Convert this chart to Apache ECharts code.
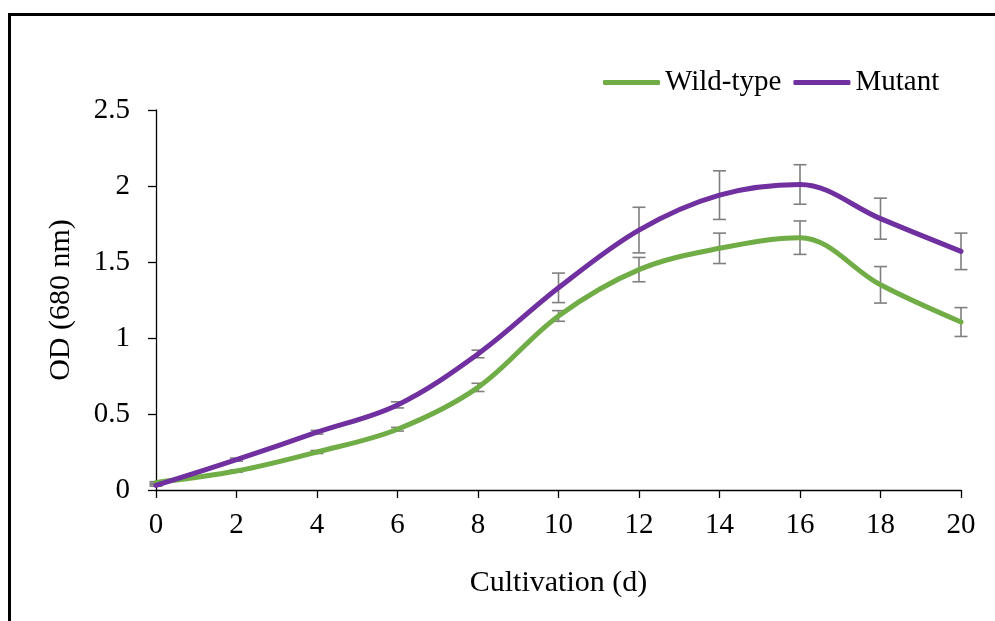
<!DOCTYPE html>
<html>
<head>
<meta charset="utf-8">
<script src="https://cdn.jsdelivr.net/npm/echarts@6/dist/echarts.min.js"></script>
<style>
  html, body { margin: 0; padding: 0; background: #fff; }
  #chart { width: 995px; height: 621px; }
</style>
</head>
<body>
<div id="chart"></div>
<script>
// Cultivation days
const days = [0, 2, 4, 6, 8, 10, 12, 14, 16, 18, 20];
// Optical density at 680 nm (mean) and standard deviation
const wildType = [0.05, 0.125, 0.25, 0.40, 0.675, 1.145, 1.45, 1.59, 1.66, 1.35, 1.105];
const wildTypeErr = [0.005, 0.008, 0.01, 0.012, 0.027, 0.035, 0.08, 0.10, 0.11, 0.12, 0.095];
const mutant = [0.03, 0.20, 0.38, 0.56, 0.895, 1.33, 1.71, 1.94, 2.01, 1.785, 1.57];
const mutantErr = [0.005, 0.01, 0.012, 0.02, 0.025, 0.097, 0.15, 0.16, 0.13, 0.135, 0.12];
const yTicks = { min: 0, max: 2.5, interval: 0.5 };

const FONT = '"Liberation Serif", "Times New Roman", serif';
const GREEN = '#70AD47';
const PURPLE = '#7030A0';

function pairs(ys) { return days.map((d, i) => [d, ys[i]]); }
function errData(ys, es) { return days.map((d, i) => [d, ys[i] - es[i], ys[i] + es[i]]); }

function errorBarSeries(ys, es) {
  return {
    type: 'custom',
    z: 1,
    silent: true,
    data: errData(ys, es),
    renderItem: function (params, api) {
      const lo = api.coord([api.value(0), api.value(1)]);
      const hi = api.coord([api.value(0), api.value(2)]);
      const w = 6.5;
      const style = { stroke: '#7f7f7f', lineWidth: 1.6 };
      return {
        type: 'group',
        children: [
          { type: 'line', shape: { x1: hi[0], y1: hi[1], x2: lo[0], y2: lo[1] }, style: style },
          { type: 'line', shape: { x1: hi[0] - w, y1: hi[1], x2: hi[0] + w, y2: hi[1] }, style: style },
          { type: 'line', shape: { x1: lo[0] - w, y1: lo[1], x2: lo[0] + w, y2: lo[1] }, style: style }
        ]
      };
    }
  };
}

const chart = echarts.init(document.getElementById('chart'), null, { renderer: 'canvas' });
chart.setOption({
  animation: false,
  backgroundColor: '#fff',
  textStyle: { fontFamily: FONT, color: '#000' },
  graphic: [{
    type: 'rect',
    shape: { x: 9.5, y: 14.5, width: 1000, height: 700 },
    style: { fill: 'none', stroke: '#000', lineWidth: 3 },
    z: -1
  }],
  legend: {
    left: 598,
    top: 63,
    icon: 'roundRect',
    itemWidth: 57,
    itemHeight: 5,
    itemGap: 12,
    textStyle: { fontFamily: FONT, fontSize: 29, color: '#000' },
    data: ['Wild-type', 'Mutant']
  },
  grid: { left: 156, right: 34, top: 110, bottom: 131, containLabel: false },
  xAxis: {
    type: 'value',
    min: 0, max: 20, interval: 2,
    name: 'Cultivation (d)',
    nameLocation: 'middle',
    nameGap: 78,
    nameTextStyle: { fontFamily: FONT, fontSize: 30, color: '#000' },
    axisLine: { show: true, lineStyle: { color: '#000', width: 1.3 } },
    axisTick: { show: true, length: 8, inside: false, lineStyle: { color: '#000', width: 1.3 } },
    axisLabel: { fontFamily: FONT, fontSize: 29, color: '#000', margin: 21 },
    splitLine: { show: false }
  },
  yAxis: {
    type: 'value',
    min: yTicks.min, max: yTicks.max, interval: yTicks.interval,
    name: 'OD (680 nm)',
    nameLocation: 'middle',
    nameGap: 80,
    nameRotate: 90,
    nameTextStyle: { fontFamily: FONT, fontSize: 30, color: '#000' },
    axisLine: { show: true, lineStyle: { color: '#000', width: 1.3 } },
    axisTick: { show: true, length: 8, inside: false, lineStyle: { color: '#000', width: 1.3 } },
    axisLabel: { fontFamily: FONT, fontSize: 29, color: '#000', margin: 26 },
    splitLine: { show: false }
  },
  series: [
    errorBarSeries(wildType, wildTypeErr),
    errorBarSeries(mutant, mutantErr),
    {
      name: 'Wild-type',
      type: 'line',
      z: 3,
      smooth: 0.35,
      showSymbol: false,
      symbol: 'none',
      data: pairs(wildType),
      itemStyle: { color: GREEN },
      lineStyle: { color: GREEN, width: 5, cap: 'round', join: 'round' }
    },
    {
      name: 'Mutant',
      type: 'line',
      z: 3,
      smooth: 0.35,
      showSymbol: false,
      symbol: 'none',
      data: pairs(mutant),
      itemStyle: { color: PURPLE },
      lineStyle: { color: PURPLE, width: 5, cap: 'round', join: 'round' }
    }
  ]
});
</script>
</body>
</html>
